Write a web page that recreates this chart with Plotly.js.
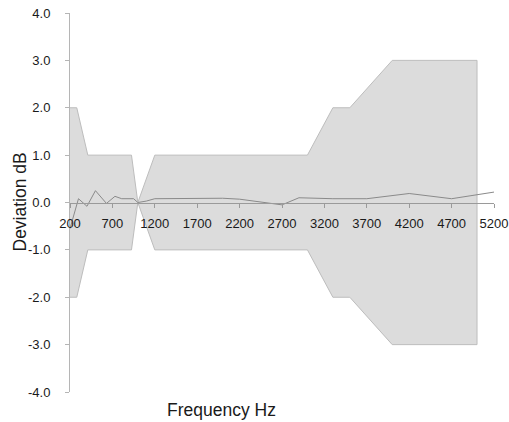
<!DOCTYPE html>
<html>
<head>
<meta charset="utf-8">
<script src="https://cdn.plot.ly/plotly-3.0.1.min.js"></script>
<style>html,body{margin:0;padding:0;background:#fff;}#chart{width:509px;height:422px;}</style>
</head>
<body>
<div id="chart"></div>
<script>
// Tolerance mask (Hz, dB)
const maskFreq  = [200, 280, 410, 925, 1000, 1200, 3000, 3300, 3500, 4000, 5000];
const maskUpper = [2, 2, 1, 1, 0, 1, 1, 2, 2, 3, 3];
const maskLower = [-2, -2, -1, -1, 0, -1, -1, -2, -2, -3, -3];

// Measured deviation (Hz, dB)
const devFreq = [200, 300, 400, 500, 630, 730, 810, 950, 1000, 1100, 1200, 1600, 2000, 2200, 2700, 2900, 3300, 3700, 4200, 4700, 5200];
const devVal  = [-0.55, 0.08, -0.08, 0.25, -0.02, 0.13, 0.08, 0.08, 0.0, 0.03, 0.08, 0.08, 0.09, 0.07, -0.05, 0.1, 0.08, 0.08, 0.19, 0.08, 0.22];

const xTicks = [200, 700, 1200, 1700, 2200, 2700, 3200, 3700, 4200, 4700, 5200];
const yTicks = [-4, -3, -2, -1, 0, 1, 2, 3, 4];
const yTickText = ['-4.0', '-3.0', '-2.0', '-1.0', '0.0', '1.0', '2.0', '3.0', '4.0'];

const maskX = maskFreq.concat(maskFreq.slice().reverse());
const maskY = maskUpper.concat(maskLower.slice().reverse());

const traces = [
  {
    x: maskX, y: maskY, type: 'scatter', mode: 'lines',
    fill: 'toself', fillcolor: '#dcdcdc',
    line: {color: '#bdbdbd', width: 1},
    hoverinfo: 'skip', showlegend: false
  },
  {
    x: devFreq, y: devVal, type: 'scatter', mode: 'lines',
    line: {color: '#8a8a8a', width: 1},
    showlegend: false
  }
];

const layout = {
  width: 509, height: 422,
  margin: {l: 70, r: 15, t: 13, b: 30},
  paper_bgcolor: '#fff', plot_bgcolor: '#fff',
  font: {family: 'Arial, Liberation Sans, sans-serif', size: 13, color: '#1a1a1a'},
  xaxis: {
    range: [200, 5200],
    tickmode: 'array', tickvals: xTicks, ticktext: xTicks.map(String),
    anchor: 'free', position: 0.5,
    showline: true, linecolor: '#9a9a9a', linewidth: 1,
    ticks: 'outside', ticklen: 4, tickcolor: '#9a9a9a',
    ticklabelstandoff: 5,
    showgrid: false, zeroline: false,
    tickfont: {size: 13, color: '#1a1a1a'}
  },
  yaxis: {
    range: [-4, 4],
    tickmode: 'array', tickvals: yTicks, ticktext: yTickText,
    showline: true, linecolor: '#b5b5b5', linewidth: 1,
    ticks: 'outside', ticklen: 4, tickcolor: '#b5b5b5',
    ticklabelstandoff: 12,
    showgrid: false, zeroline: false,
    tickfont: {size: 13, color: '#1a1a1a'}
  },
  annotations: [
    {
      text: 'Frequency Hz', xref: 'paper', yref: 'paper',
      x: (221 - 70) / 424, y: -(410 - 392) / 379,
      xanchor: 'center', yanchor: 'middle', showarrow: false,
      font: {size: 17.5, color: '#1a1a1a'}
    },
    {
      text: 'Deviation dB', xref: 'paper', yref: 'paper',
      x: (19 - 70) / 424, y: 0.5, textangle: -90,
      xanchor: 'center', yanchor: 'middle', showarrow: false,
      font: {size: 17.5, color: '#1a1a1a'}
    }
  ]
};

Plotly.newPlot('chart', traces, layout, {displayModeBar: false, staticPlot: true});
</script>
</body>
</html>
